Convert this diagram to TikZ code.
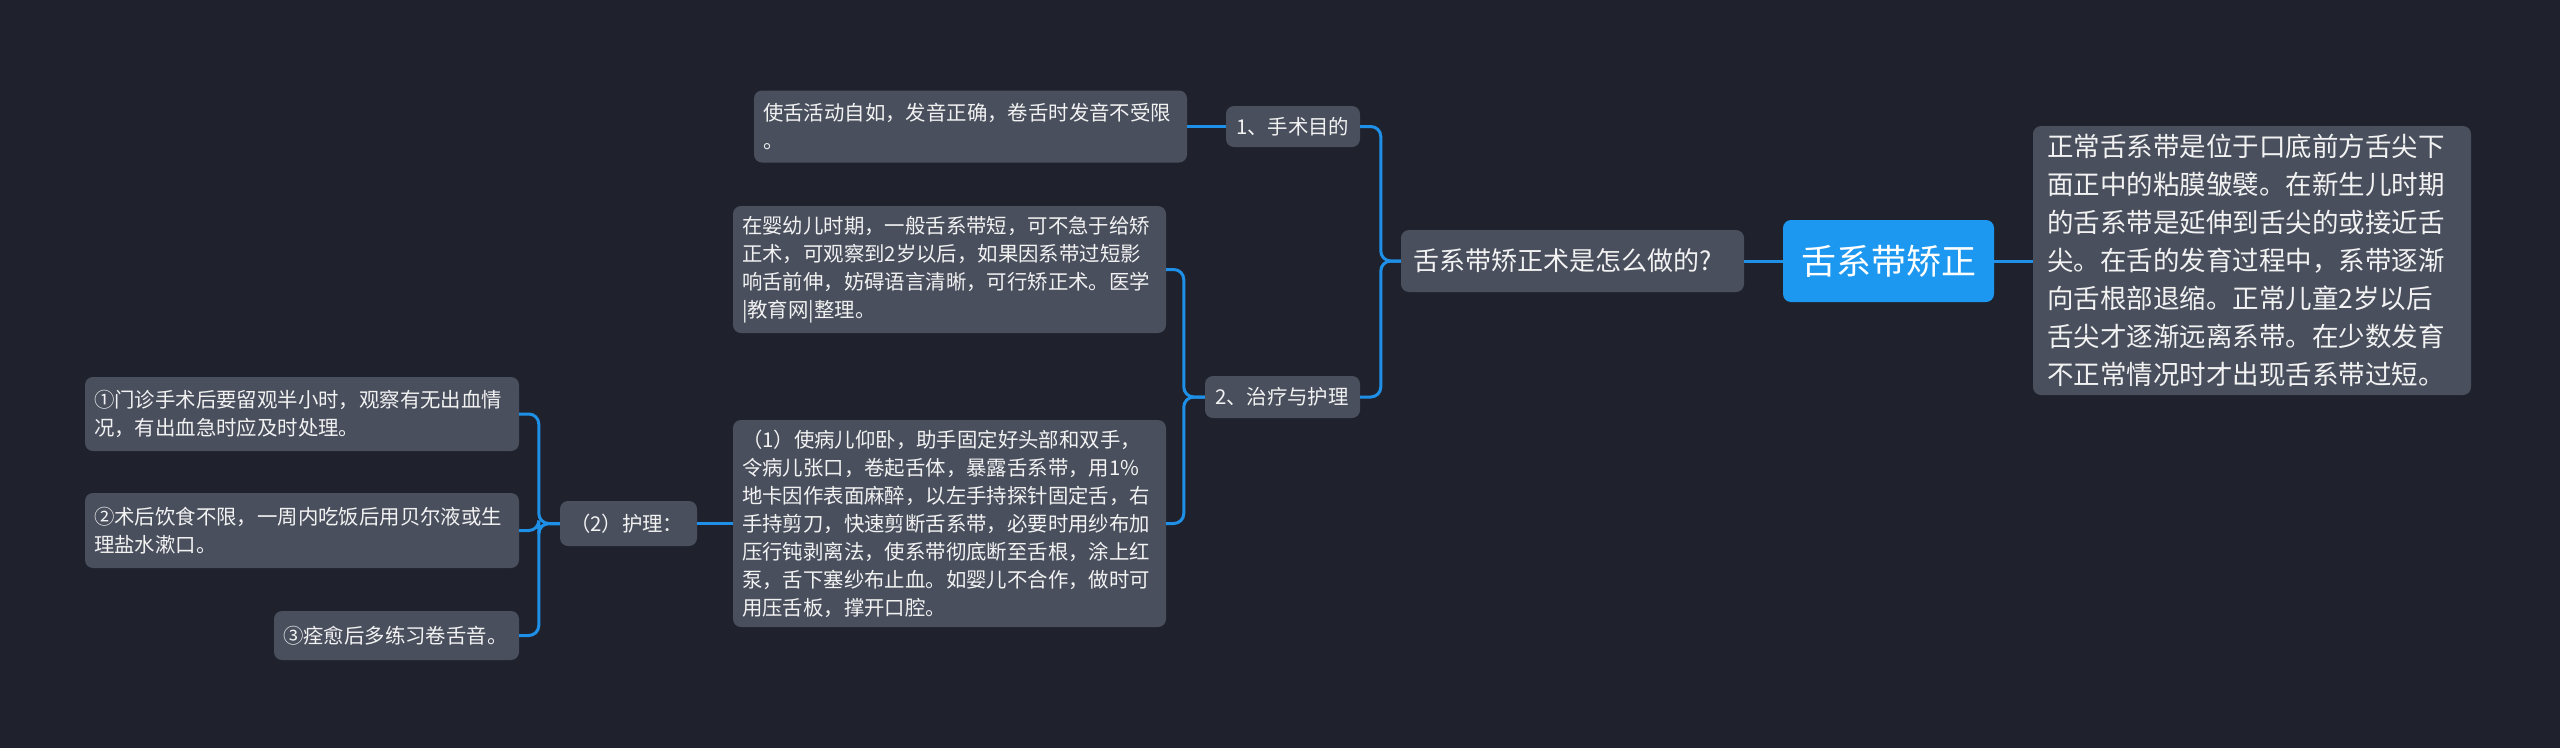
\documentclass[tikz,border=0pt]{standalone}
\usepackage{fontspec}
\setmainfont{Noto Sans CJK SC}
\usetikzlibrary{calc}
\definecolor{bg}{RGB}{31,34,45}
\definecolor{boxfill}{RGB}{73,79,93}
\definecolor{rootfill}{RGB}{28,152,240}
\definecolor{linec}{RGB}{30,144,232}
\definecolor{txt}{RGB}{242,242,242}
\tikzset{
  mbox/.style={fill=boxfill, rounded corners=8pt, text=txt, align=left, inner sep=0pt, anchor=center},
  small/.style={font=\fontsize{20.4}{28}\selectfont},
  big/.style={font=\fontsize{26.5}{38}\selectfont},
  rootbox/.style={fill=rootfill, rounded corners=8pt, text=white, inner sep=0pt, anchor=center, font=\fontsize{35}{40}\selectfont},
  conn/.style={draw=linec, line width=3pt, rounded corners=10pt},
}
\begin{document}
\begin{tikzpicture}[x=1pt,y=-1pt]
\fill[bg] (0,0) rectangle (2560,748);
\useasboundingbox (0,0) rectangle (2560,748);

\node[rootbox, minimum width=211pt, minimum height=82pt] (root) at (1888.5,261) {舌系带矫正};
\node[mbox, big, minimum width=438pt, minimum height=269pt, text width=410pt] (desc) at (2252,260.5)
  {正常舌系带是位于口底前方舌尖下\\面正中的粘膜皱襞。在新生儿时期\\的舌系带是延伸到舌尖的或接近舌\\尖。在舌的发育过程中，系带逐渐\\向舌根部退缩。正常儿童2岁以后\\舌尖才逐渐远离系带。在少数发育\\不正常情况时才出现舌系带过短。};
\node[mbox, font=\fontsize{26}{32}\selectfont, minimum width=343pt, minimum height=62pt, text width=319pt] (q) at (1572.5,261) {舌系带矫正术是怎么做的?};

\node[mbox, small, minimum width=134pt, minimum height=41pt, text width=114pt] (a1) at (1293,126.5) {1、手术目的};
\node[mbox, small, minimum width=433pt, minimum height=72pt, text width=415pt] (a1t) at (970.5,126.5)
  {使舌活动自如，发音正确，卷舌时发音不受限\\。};
\node[mbox, small, minimum width=155pt, minimum height=42pt, text width=135pt] (a2) at (1282.5,397) {2、治疗与护理};
\node[mbox, small, minimum width=433pt, minimum height=127pt, text width=415pt] (b1) at (949.5,269.5)
  {在婴幼儿时期，一般舌系带短，可不急于给矫\\正术，可观察到2岁以后，如果因系带过短影\\响舌前伸，妨碍语言清晰，可行矫正术。医学\\|教育网|整理。};
\node[mbox, small, minimum width=433pt, minimum height=207pt, text width=415pt] (b2) at (949.5,523.5)
  {（1）使病儿仰卧，助手固定好头部和双手，\\令病儿张口，卷起舌体，暴露舌系带，用1\%\\地卡因作表面麻醉，以左手持探针固定舌，右\\手持剪刀，快速剪断舌系带，必要时用纱布加\\压行钝剥离法，使系带彻底断至舌根，涂上红\\泵，舌下塞纱布止血。如婴儿不合作，做时可\\用压舌板，撑开口腔。};
\node[mbox, small, minimum width=137pt, minimum height=45pt, text width=117pt] (c) at (628.5,523.5) {（2）护理：};
\node[mbox, small, minimum width=434pt, minimum height=74pt, text width=416pt] (d1) at (302,414)
  {①门诊手术后要留观半小时，观察有无出血情\\况，有出血急时应及时处理。};
\node[mbox, small, minimum width=434pt, minimum height=75pt, text width=416pt] (d2) at (302,530.5)
  {②术后饮食不限，一周内吃饭后用贝尔液或生\\理盐水漱口。};
\node[mbox, small, minimum width=245pt, minimum height=49pt, text width=227pt] (d3) at (396.5,635.5)
  {③痊愈后多练习卷舌音。};

\draw[conn] (root.east) -- (desc.west |- root.east);
\draw[conn] (root.west) -- (q.east);
\draw[conn] (q.west) -- ($(q.west)+(-20,0)$) |- (a1.east);
\draw[conn] (q.west) -- ($(q.west)+(-20,0)$) |- (a2.east);
\draw[conn] (a1.west) -- (a1t.east);
\draw[conn] (a2.west) -- ($(a2.west)+(-21,0)$) |- (b1.east);
\draw[conn] (a2.west) -- ($(a2.west)+(-21,0)$) |- (b2.east);
\draw[conn] (b2.west) -- (c.east);
\draw[conn] (c.west) -- ($(c.west)+(-21,0)$) |- (d1.east);
\draw[conn] (c.west) -- ($(c.west)+(-21,0)$) |- (d2.east);
\draw[conn] (c.west) -- ($(c.west)+(-21,0)$) |- (d3.east);
\end{tikzpicture}
\end{document}
